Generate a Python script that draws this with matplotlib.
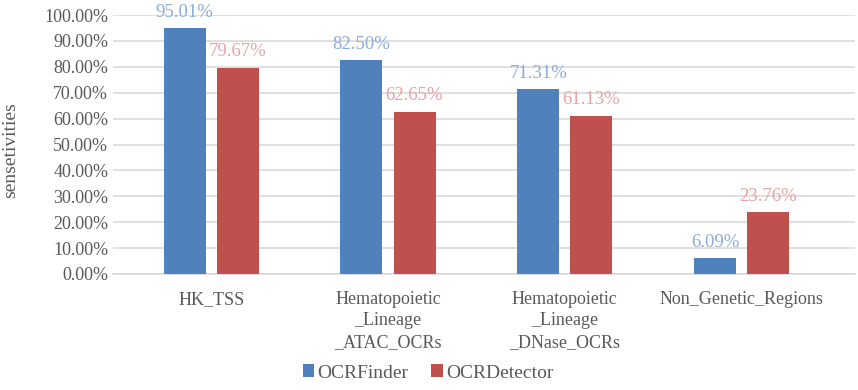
import numpy as np
import matplotlib.pyplot as plt
from matplotlib.ticker import FuncFormatter

plt.rcParams['font.family'] = ['Liberation Serif', 'DejaVu Serif']

# data
categories = ['HK_TSS', 'Hematopoietic\n_Lineage\n_ATAC_OCRs',
              'Hematopoietic\n_Lineage\n_DNase_OCRs', 'Non_Genetic_Regions']
finder = [95.01, 82.50, 71.31, 6.09]
detector = [79.67, 62.65, 61.13, 23.76]

gray = '#595959'
blue = '#4f81bd'
red = '#c0504d'

fig = plt.figure(figsize=(8.58, 3.9), dpi=100)
ax = fig.add_axes([113/858, 1 - 274/390, 742/858, 259/390])

x = np.arange(len(categories))
w = 0.2375
off = 0.15
ax.bar(x - off, finder, w, color=blue, label='OCRFinder', zorder=3)
ax.bar(x + off, detector, w, color=red, label='OCRDetector', zorder=3)

for xi, v in zip(x - off, finder):
    ax.text(xi, v + 2.8, f'{v:.2f}%', ha='center', va='bottom', color='#8eaadb', fontsize=13.5)
for xi, v in zip(x + off, detector):
    ax.text(xi, v + 2.8, f'{v:.2f}%', ha='center', va='bottom', color='#e8a3a3', fontsize=13.5)

ax.set_xlim(-0.555, 3.641)
ax.set_ylim(0, 100)
ax.set_yticks(np.arange(0, 101, 10))
ax.yaxis.set_major_formatter(FuncFormatter(lambda v, p: f'{v:.2f}%'))
ax.grid(axis='y', color='#d9d9d9', linewidth=1.2, zorder=0)
for s in ['top', 'right', 'left']:
    ax.spines[s].set_visible(False)
ax.spines['bottom'].set_color('#d9d9d9')
ax.spines['bottom'].set_linewidth(1.2)
ax.tick_params(axis='both', length=0, colors=gray, labelsize=13)
ax.tick_params(axis='x', pad=12)
ax.set_xticks(x)
ax.set_xticklabels(categories, linespacing=1.35)
ax.set_ylabel('sensetivities', color=gray, fontsize=14)
ax.yaxis.set_label_coords(-0.127, 0.479)

fig.legend(loc='center', bbox_to_anchor=(428/858, 1 - 373/390), ncol=2, frameon=False,
           fontsize=14, handlelength=0.6, handleheight=0.6, handletextpad=0.15,
           columnspacing=1.2, labelcolor=gray)

fig.savefig('out.png', dpi=100)
